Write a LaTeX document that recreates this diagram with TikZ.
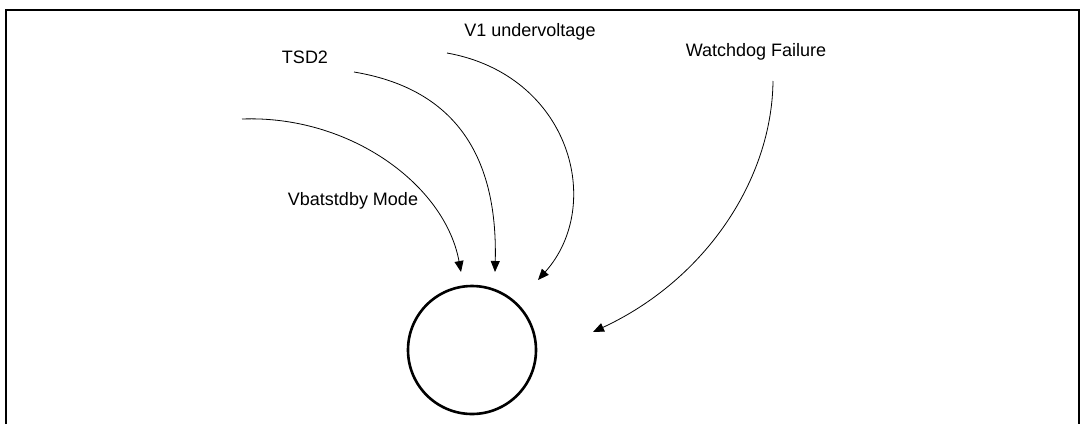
\documentclass[tikz,border=0pt]{standalone}
\usepackage{fontspec}
\setmainfont{Liberation Sans}
\usetikzlibrary{arrows.meta}
\begin{document}
\begin{tikzpicture}[x=1pt,y=-1pt,
    lbl/.style={font=\fontsize{18}{21}\selectfont, inner sep=0pt, anchor=center},
    flow/.style={line width=0.8pt, -{Triangle[length=11pt,width=9pt]}},
    state/.style={circle, draw, line width=2.6pt, minimum size=128pt, inner sep=0pt}]
  \useasboundingbox (0,0) rectangle (1082,424);
  % open frame
  \draw[line width=2pt] (6,424) -- (6,10) -- (1079,10) -- (1079,424);
  % state
  \node[state] (st) at (472,350) {};
  % labels
  \node[lbl] (tsd) at (305,57) {TSD2};
  \node[lbl] (uv) at (530,32) {V1 undervoltage};
  \node[lbl] (wd) at (756,52) {Watchdog Failure};
  \node[lbl] (vb) at (353,201) {Vbatstdby Mode};
  % transition tails and tips
  \coordinate (t1) at (242,119);  \coordinate (h1) at (461,272);
  \coordinate (t2) at (354,72);   \coordinate (h2) at (495,272);
  \coordinate (t3) at (447,53);   \coordinate (h3) at (538,280);
  \coordinate (t4) at (773,81);   \coordinate (h4) at (593,332);
  % transitions
  \draw[flow] (t1) .. controls (350,115) and (445,185) .. (h1);
  \draw[flow] (t2) .. controls (450,88) and (498,150) .. (h2);
  \draw[flow] (t3) .. controls (570,75) and (605,205) .. (h3);
  \draw[flow] (t4) .. controls (772,180) and (705,280) .. (h4);
\end{tikzpicture}
\end{document}
